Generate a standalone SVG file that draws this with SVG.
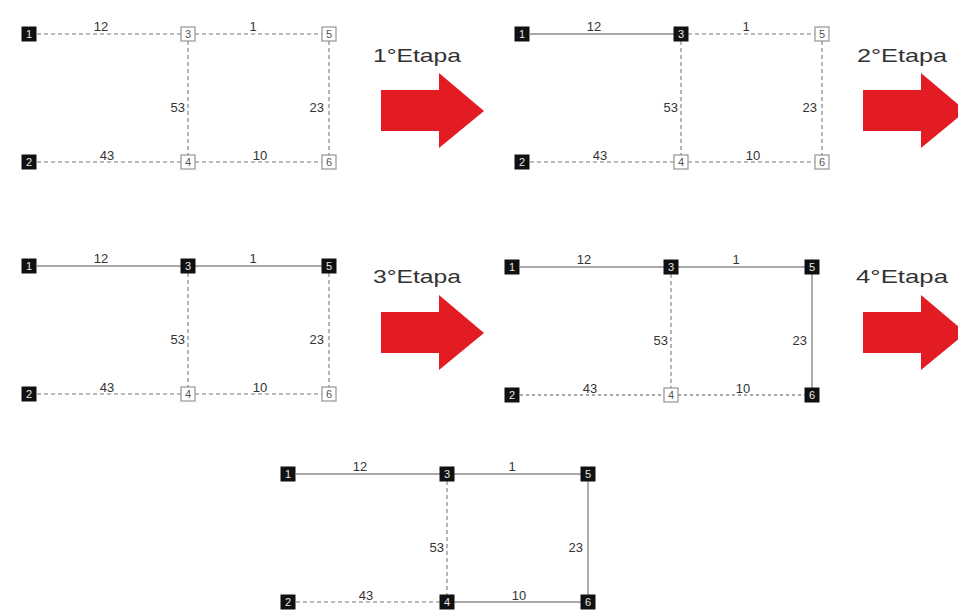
<svg xmlns="http://www.w3.org/2000/svg" width="958" height="610" viewBox="0 0 958 610">
  <style>
    .bg { fill: #ffffff; }
    .dash { stroke: #7a7a7a; stroke-width: 1.1; stroke-dasharray: 4 3; fill: none; }
    .dash-light { stroke: #a8a8a8; stroke-width: 1.8; stroke-dasharray: 3 3; fill: none; }
    .solid { stroke: #8c8c8c; stroke-width: 1.4; fill: none; }
    .on rect { fill: #111111; stroke: #111111; stroke-width: 1; }
    .on text { fill: #e8e8e8; }
    .off rect { fill: #ffffff; stroke: #8a8a8a; stroke-width: 1.1; }
    .off text { fill: #555555; }
    .nlab { font-family: "Liberation Sans", Arial, sans-serif; font-size: 11px; text-anchor: middle; }
    .w { font-family: "Liberation Sans", Arial, sans-serif; font-size: 13px; fill: #333333; }
    .mid { text-anchor: middle; }
    .end { text-anchor: end; }
    .step { font-family: "Liberation Sans", Arial, sans-serif; font-size: 19px; fill: #333333; }
    .arrow { fill: #e31b23; }
  </style>
  <defs>
    <!-- block arrow between stages -->
    <polygon id="bigArrow" points="0,17 58,17 58,0 103,38 58,75 58,58 0,58"/>
    <!-- weights of the six-node network, positioned relative to node 1 -->
    <g id="weights">
      <text class="w mid" x="72" y="-3">12</text>
      <text class="w mid" x="224" y="-3">1</text>
      <text class="w end" x="156" y="78">53</text>
      <text class="w end" x="295" y="78">23</text>
      <text class="w mid" x="78" y="126">43</text>
      <text class="w mid" x="231" y="126">10</text>
    </g>
  </defs>

  <rect class="bg" x="0" y="0" width="958" height="610"/>

  <!-- ===== Stage 0 ===== -->
  <g id="graph1" transform="translate(29,34)">
    <g id="graph1-edges">
      <line class="dash" x1="8" y1="0" x2="152" y2="0"/>
      <line class="dash" x1="166" y1="0" x2="293" y2="0"/>
      <line class="dash" x1="8" y1="128" x2="152" y2="128"/>
      <line class="dash" x1="166" y1="128" x2="293" y2="128"/>
      <line class="dash" x1="159" y1="7" x2="159" y2="121"/>
      <line class="dash" x1="300" y1="7" x2="300" y2="121"/>
    </g>
    <use href="#weights"/>
    <g id="g1-n1" class="on"><rect x="-7" y="-7" width="14" height="14"/><text class="nlab" x="0" y="4">1</text></g>
    <g id="g1-n3" class="off" transform="translate(159,0)"><rect x="-7" y="-7" width="14" height="14"/><text class="nlab" x="0" y="4">3</text></g>
    <g id="g1-n5" class="off" transform="translate(300,0)"><rect x="-7" y="-7" width="14" height="14"/><text class="nlab" x="0" y="4">5</text></g>
    <g id="g1-n2" class="on" transform="translate(0,128)"><rect x="-7" y="-7" width="14" height="14"/><text class="nlab" x="0" y="4">2</text></g>
    <g id="g1-n4" class="off" transform="translate(159,128)"><rect x="-7" y="-7" width="14" height="14"/><text class="nlab" x="0" y="4">4</text></g>
    <g id="g1-n6" class="off" transform="translate(300,128)"><rect x="-7" y="-7" width="14" height="14"/><text class="nlab" x="0" y="4">6</text></g>
  </g>

  <g id="step1">
    <text class="step" x="373" y="62" textLength="88" lengthAdjust="spacingAndGlyphs">1°Etapa</text>
    <use class="arrow" href="#bigArrow" transform="translate(381,73)"/>
  </g>

  <!-- ===== Stage 1 ===== -->
  <g id="graph2" transform="translate(522,34)">
    <g id="graph2-edges">
      <line class="solid" x1="8" y1="0" x2="152" y2="0"/>
      <line class="dash" x1="166" y1="0" x2="293" y2="0"/>
      <line class="dash" x1="8" y1="128" x2="152" y2="128"/>
      <line class="dash" x1="166" y1="128" x2="293" y2="128"/>
      <line class="dash" x1="159" y1="7" x2="159" y2="121"/>
      <line class="dash" x1="300" y1="7" x2="300" y2="121"/>
    </g>
    <use href="#weights"/>
    <g id="g2-n1" class="on"><rect x="-7" y="-7" width="14" height="14"/><text class="nlab" x="0" y="4">1</text></g>
    <g id="g2-n3" class="on" transform="translate(159,0)"><rect x="-7" y="-7" width="14" height="14"/><text class="nlab" x="0" y="4">3</text></g>
    <g id="g2-n5" class="off" transform="translate(300,0)"><rect x="-7" y="-7" width="14" height="14"/><text class="nlab" x="0" y="4">5</text></g>
    <g id="g2-n2" class="on" transform="translate(0,128)"><rect x="-7" y="-7" width="14" height="14"/><text class="nlab" x="0" y="4">2</text></g>
    <g id="g2-n4" class="off" transform="translate(159,128)"><rect x="-7" y="-7" width="14" height="14"/><text class="nlab" x="0" y="4">4</text></g>
    <g id="g2-n6" class="off" transform="translate(300,128)"><rect x="-7" y="-7" width="14" height="14"/><text class="nlab" x="0" y="4">6</text></g>
  </g>

  <g id="step2">
    <text class="step" x="857" y="62" textLength="90" lengthAdjust="spacingAndGlyphs">2°Etapa</text>
    <use class="arrow" href="#bigArrow" transform="translate(863,73)"/>
  </g>

  <!-- ===== Stage 2 ===== -->
  <g id="graph3" transform="translate(29,266)">
    <g id="graph3-edges">
      <line class="solid" x1="8" y1="0" x2="152" y2="0"/>
      <line class="solid" x1="166" y1="0" x2="293" y2="0"/>
      <line class="dash" x1="8" y1="128" x2="152" y2="128"/>
      <line class="dash" x1="166" y1="128" x2="293" y2="128"/>
      <line class="dash" x1="159" y1="7" x2="159" y2="121"/>
      <line class="dash" x1="300" y1="7" x2="300" y2="121"/>
    </g>
    <use href="#weights"/>
    <g id="g3-n1" class="on"><rect x="-7" y="-7" width="14" height="14"/><text class="nlab" x="0" y="4">1</text></g>
    <g id="g3-n3" class="on" transform="translate(159,0)"><rect x="-7" y="-7" width="14" height="14"/><text class="nlab" x="0" y="4">3</text></g>
    <g id="g3-n5" class="on" transform="translate(300,0)"><rect x="-7" y="-7" width="14" height="14"/><text class="nlab" x="0" y="4">5</text></g>
    <g id="g3-n2" class="on" transform="translate(0,128)"><rect x="-7" y="-7" width="14" height="14"/><text class="nlab" x="0" y="4">2</text></g>
    <g id="g3-n4" class="off" transform="translate(159,128)"><rect x="-7" y="-7" width="14" height="14"/><text class="nlab" x="0" y="4">4</text></g>
    <g id="g3-n6" class="off" transform="translate(300,128)"><rect x="-7" y="-7" width="14" height="14"/><text class="nlab" x="0" y="4">6</text></g>
  </g>

  <g id="step3">
    <text class="step" x="373" y="283" textLength="88" lengthAdjust="spacingAndGlyphs">3°Etapa</text>
    <use class="arrow" href="#bigArrow" transform="translate(381,295)"/>
  </g>

  <!-- ===== Stage 3 ===== -->
  <g id="graph4" transform="translate(512,267)">
    <g id="graph4-edges">
      <line class="solid" x1="8" y1="0" x2="152" y2="0"/>
      <line class="solid" x1="166" y1="0" x2="293" y2="0"/>
      <line class="dash-light" x1="8" y1="128" x2="152" y2="128"/>
      <line class="dash-light" x1="166" y1="128" x2="293" y2="128"/>
      <line class="dash" x1="159" y1="7" x2="159" y2="121"/>
      <line class="solid" x1="300" y1="7" x2="300" y2="121"/>
    </g>
    <use href="#weights"/>
    <g id="g4-n1" class="on"><rect x="-7" y="-7" width="14" height="14"/><text class="nlab" x="0" y="4">1</text></g>
    <g id="g4-n3" class="on" transform="translate(159,0)"><rect x="-7" y="-7" width="14" height="14"/><text class="nlab" x="0" y="4">3</text></g>
    <g id="g4-n5" class="on" transform="translate(300,0)"><rect x="-7" y="-7" width="14" height="14"/><text class="nlab" x="0" y="4">5</text></g>
    <g id="g4-n2" class="on" transform="translate(0,128)"><rect x="-7" y="-7" width="14" height="14"/><text class="nlab" x="0" y="4">2</text></g>
    <g id="g4-n4" class="off" transform="translate(159,128)"><rect x="-7" y="-7" width="14" height="14"/><text class="nlab" x="0" y="4">4</text></g>
    <g id="g4-n6" class="on" transform="translate(300,128)"><rect x="-7" y="-7" width="14" height="14"/><text class="nlab" x="0" y="4">6</text></g>
  </g>

  <g id="step4">
    <text class="step" x="856" y="283" textLength="92" lengthAdjust="spacingAndGlyphs">4°Etapa</text>
    <use class="arrow" href="#bigArrow" transform="translate(863,295)"/>
  </g>

  <!-- ===== Final tree ===== -->
  <g id="graph5" transform="translate(288,474)">
    <g id="graph5-edges">
      <line class="solid" x1="8" y1="0" x2="152" y2="0"/>
      <line class="solid" x1="166" y1="0" x2="293" y2="0"/>
      <line class="dash" x1="8" y1="128" x2="152" y2="128"/>
      <line class="solid" x1="166" y1="128" x2="293" y2="128"/>
      <line class="dash" x1="159" y1="7" x2="159" y2="121"/>
      <line class="solid" x1="300" y1="7" x2="300" y2="121"/>
    </g>
    <use href="#weights"/>
    <g id="g5-n1" class="on"><rect x="-7" y="-7" width="14" height="14"/><text class="nlab" x="0" y="4">1</text></g>
    <g id="g5-n3" class="on" transform="translate(159,0)"><rect x="-7" y="-7" width="14" height="14"/><text class="nlab" x="0" y="4">3</text></g>
    <g id="g5-n5" class="on" transform="translate(300,0)"><rect x="-7" y="-7" width="14" height="14"/><text class="nlab" x="0" y="4">5</text></g>
    <g id="g5-n2" class="on" transform="translate(0,128)"><rect x="-7" y="-7" width="14" height="14"/><text class="nlab" x="0" y="4">2</text></g>
    <g id="g5-n4" class="on" transform="translate(159,128)"><rect x="-7" y="-7" width="14" height="14"/><text class="nlab" x="0" y="4">4</text></g>
    <g id="g5-n6" class="on" transform="translate(300,128)"><rect x="-7" y="-7" width="14" height="14"/><text class="nlab" x="0" y="4">6</text></g>
  </g>
</svg>
